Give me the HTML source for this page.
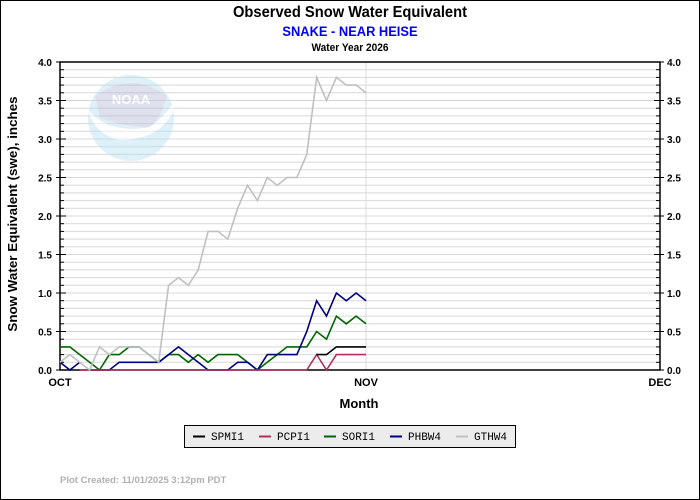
<!DOCTYPE html>
<html><head><meta charset="utf-8"><style>
html,body{margin:0;padding:0;background:#fff}
svg{display:block;font-family:"Liberation Sans",sans-serif}
.g{stroke:#d8d8d8;stroke-width:1}
polyline{fill:none;stroke-width:1.6;vector-effect:non-scaling-stroke;stroke-linejoin:miter}
</style></head><body>
<svg width="700" height="500" viewBox="0 0 700 500">
<rect x="0.5" y="0.5" width="699" height="499" fill="#fff" stroke="#000"/>
<text x="350" y="17" text-anchor="middle" font-size="16" font-weight="bold" transform="translate(350 0) scale(0.92 1) translate(-350 0)">Observed Snow Water Equivalent</text>
<text x="350" y="36" text-anchor="middle" font-size="14" font-weight="bold" fill="#0000ff" transform="translate(350 0) scale(0.92 1) translate(-350 0)">SNAKE - NEAR HEISE</text>
<text x="350" y="51" text-anchor="middle" font-size="11" font-weight="bold" transform="translate(350 0) scale(0.92 1) translate(-350 0)">Water Year 2026</text>
<rect x="60" y="62" width="600" height="308" fill="#fff"/>
<g id="grid"></g>
<!-- NOAA logo -->
<g opacity="0.45">
<circle cx="131" cy="118" r="43" fill="#b8e0f0"/>
<path d="M95 96 Q131 70 167 96 Q160 120 150 127 Q130 128 100 118 Z" fill="#b8bcd8"/>
<path d="M88 110 Q110 135 150 127 Q140 135 120 137 Q150 135 172 105 L174 110 Q160 140 120 140 Q95 135 88 110Z" fill="#fff"/>
<text x="131" y="104" text-anchor="middle" font-size="13" font-weight="bold" fill="#fff">NOAA</text>
</g>
<line x1="366" y1="62" x2="366" y2="370" stroke="#d8d8d8"/>
<rect x="60" y="62" width="600" height="308" fill="none" stroke="#000" stroke-width="1.5"/>
<g id="ticks" stroke="#000"></g>
<g font-size="10" font-weight="bold" id="lab"></g>
<text x="60" y="386" text-anchor="middle" font-size="11" font-weight="bold">OCT</text>
<text x="366" y="386" text-anchor="middle" font-size="11" font-weight="bold">NOV</text>
<text x="660" y="386" text-anchor="middle" font-size="11" font-weight="bold">DEC</text>
<text x="359" y="408" text-anchor="middle" font-size="13" font-weight="bold">Month</text>
<text transform="translate(17 214) rotate(-90) scale(1.03 1)" text-anchor="middle" font-size="13" font-weight="bold">Snow Water Equivalent (swe),  inches</text>
<g transform="translate(60 370) scale(9.871 -77)">
<polyline stroke="#006600" points="0,0.3 1,0.3 2,0.2 3,0.1 4,0 5,0.2 6,0.2 7,0.3 8,0.3 9,0.2 10,0.1 11,0.2 12,0.2 13,0.1 14,0.2 15,0.1 16,0.2 17,0.2 18,0.2 19,0.1 20,0 21,0.1 22,0.2 23,0.3 24,0.3 25,0.3 26,0.5 27,0.4 28,0.7 29,0.6 30,0.7 31,0.6"/>
<polyline stroke="#000080" points="0,0.1 1,0 2,0.1"/>
<polyline stroke="#000080" points="3,0 4,0 5,0 6,0.1 7,0.1 8,0.1 9,0.1 10,0.1 11,0.2 12,0.3 13,0.2 14,0.1 15,0 16,0 17,0 18,0.1 19,0.1 20,0 21,0.2 22,0.2 23,0.2 24,0.2 25,0.5 26,0.9 27,0.7 28,1.0 29,0.9 30,1.0 31,0.9"/>
<polyline stroke="#b03060" points="2,0 25,0 26,0.2 27,0 28,0.2 29,0.2 30,0.2 31,0.2"/>
<polyline stroke="#000" points="26,0.2 27,0.2 28,0.3 29,0.3 30,0.3 31,0.3"/>
<polyline stroke="#c0c0c0" points="0,0.1 1,0.2 2,0.1 3,0 4,0.3 5,0.2 6,0.3 7,0.3 8,0.3 9,0.2 10,0.1 11,1.1 12,1.2 13,1.1 14,1.3 15,1.8 16,1.8 17,1.7 18,2.1 19,2.4 20,2.2 21,2.5 22,2.4 23,2.5 24,2.5 25,2.8 26,3.8 27,3.5 28,3.8 29,3.7 30,3.7 31,3.6"/>
</g>
<rect x="184.5" y="425.5" width="331" height="22" fill="#ececec" stroke="#000"/>
<g font-family="'Liberation Mono',monospace" font-size="11">
<line x1="193" y1="436.5" x2="205" y2="436.5" stroke="#000" stroke-width="2"/><text x="211" y="440">SPMI1</text>
<line x1="259" y1="436.5" x2="271" y2="436.5" stroke="#b03060" stroke-width="2"/><text x="277" y="440">PCPI1</text>
<line x1="324" y1="436.5" x2="336" y2="436.5" stroke="#006600" stroke-width="2"/><text x="342" y="440">SORI1</text>
<line x1="390" y1="436.5" x2="402" y2="436.5" stroke="#000080" stroke-width="2"/><text x="408" y="440">PHBW4</text>
<line x1="456" y1="436.5" x2="468" y2="436.5" stroke="#c0c0c0" stroke-width="2"/><text x="474" y="440">GTHW4</text>
</g>
<text x="60" y="483" font-size="9.5" font-weight="bold" fill="#b0b0b0">Plot Created: 11/01/2025 3:12pm PDT</text>
<script>
var ns="http://www.w3.org/2000/svg",g=document.getElementById("grid"),t=document.getElementById("ticks"),l=document.getElementById("lab");
function el(p,n,a){var e=document.createElementNS(ns,n);for(var k in a)e.setAttribute(k,a[k]);p.appendChild(e);return e;}
for(var i=1;i<40;i++){var y=370-i*7.7;el(g,"line",{x1:60,x2:660,y1:y,y2:y,"class":"g"});
el(t,"line",{x1:60,x2:64,y1:y,y2:y});el(t,"line",{x1:656,x2:660,y1:y,y2:y});}
for(var i=0;i<=8;i++){var y=370-i*38.5,s=(i*0.5).toFixed(1);
el(t,"line",{x1:56,x2:66,y1:y,y2:y});el(t,"line",{x1:654,x2:664,y1:y,y2:y});
var a=el(l,"text",{x:52,y:y+4,"text-anchor":"end"});a.textContent=s;
var b=el(l,"text",{x:667,y:y+4});b.textContent=s;}
</script>
</svg>
</body></html>
